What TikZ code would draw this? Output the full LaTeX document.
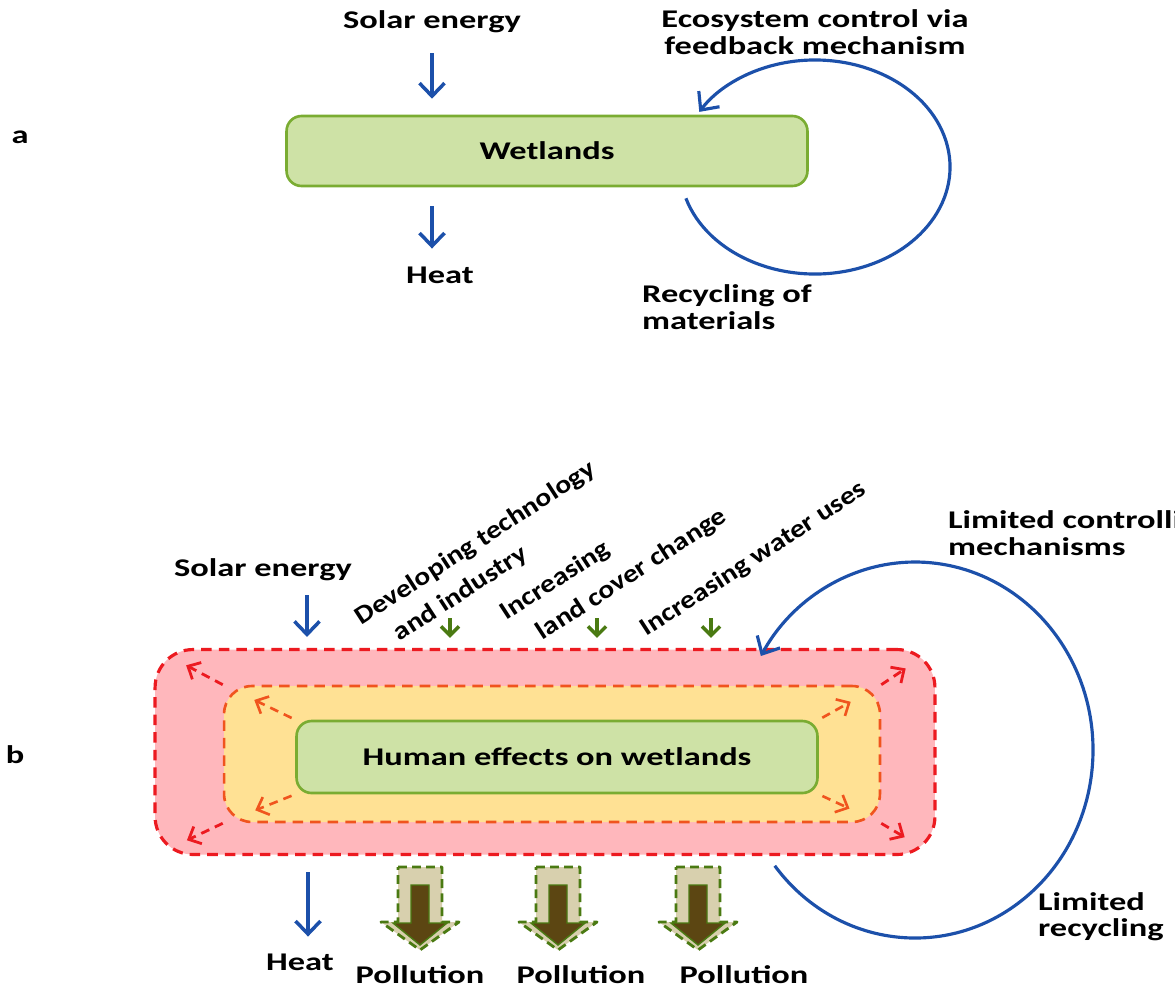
\documentclass[tikz,border=0pt]{standalone}
\usepackage{fontspec}
\setmainfont{Carlito}[FakeStretch=1.35]
\newfontfamily\slantfont{Carlito}[FakeStretch=1.16]
\usetikzlibrary{arrows.meta}
\definecolor{flowblue}{RGB}{28,80,170}
\definecolor{wetfill}{RGB}{206,226,166}
\definecolor{wetline}{RGB}{122,172,50}
\definecolor{pinkfill}{RGB}{255,183,188}
\definecolor{pinkline}{RGB}{236,26,32}
\definecolor{yelfill}{RGB}{255,225,148}
\definecolor{yelline}{RGB}{240,84,30}
\definecolor{pressgreen}{RGB}{74,122,18}
\definecolor{beige}{RGB}{216,208,174}
\definecolor{mud}{RGB}{92,70,18}
\tikzset{
  lbl/.style={font=\fontsize{14.5}{15}\selectfont\bfseries, inner sep=1pt},
  slantlbl/.style={font=\slantfont\fontsize{14.5}{15}\selectfont\bfseries, inner sep=1pt, rotate=33, anchor=base west},
  wetbox/.style={lbl, draw=wetline, fill=wetfill, line width=1.5pt, rounded corners=0.3cm},
  flow/.style={draw=flowblue, line width=2pt, -{Straight Barb[length=2.6mm,width=5mm]}},
  loopline/.style={draw=flowblue, line width=1.8pt, -{Straight Barb[length=2.8mm,width=5.2mm]}},
  press/.style={draw=pressgreen, line width=2pt, -{Straight Barb[length=1.8mm,width=3.6mm]}},
  spreadin/.style={draw=yelline, line width=1.5pt, dash pattern=on 5pt off 3.5pt, -{Straight Barb[length=2mm,width=3.8mm]}},
  spreadout/.style={draw=pinkline, line width=1.6pt, dash pattern=on 5pt off 3.5pt, -{Straight Barb[length=2mm,width=3.8mm]}},
  polout/.style={draw=pressgreen, fill=beige, line width=1.6pt, dash pattern=on 5pt off 3pt, line join=round},
  polin/.style={draw=pressgreen, fill=mud, line width=0.8pt}
}
\begin{document}
\begin{tikzpicture}[x=0.02cm,y=-0.02cm]
    \useasboundingbox (0,0) rectangle (1175,988);
    %% panel a
    \node[lbl] (pa) at (20,137) {a};
    \node[lbl] (sola) at (432,22) {Solar energy};
    \node[wetbox, minimum width=10.42cm, minimum height=1.4cm] (wet) at (547,151) {Wetlands};
    \node[lbl] (heata) at (440,275) {Heat};
    \draw[flow, shorten <=0.36cm, shorten >=0.32cm] (sola) -- (sola |- wet.north);
    \draw[flow, shorten <=0.38cm, shorten >=0.32cm] (sola |- wet.south) -- (sola |- heata.north);
    %% feedback loop
    \coordinate (fba) at (815,167);
    \draw[loopline] (fba) ++(163:135 and 107) arc[start angle=163, end angle=-149, x radius=135, y radius=107];
    \node[lbl, align=center] (ecoa) at (815,32) {Ecosystem control via\\feedback mechanism};
    \node[lbl, align=left, anchor=west] (recya) at (640,307) {Recycling of\\materials};
    %% panel b
    \node[lbl] (pb) at (15,755) {b};
    \node[lbl] (solb) at (263,570) {Solar energy};
    \node[draw=pinkline, fill=pinkfill, line width=1.8pt, dash pattern=on 6pt off 4pt, rounded corners=0.76cm,
          minimum width=15.6cm, minimum height=4.1cm] (outer) at (545,752) {};
    \node[draw=yelline, fill=yelfill, line width=1.5pt, dash pattern=on 6pt off 4pt, rounded corners=0.56cm,
          minimum width=13.12cm, minimum height=2.72cm] (middle) at (552,754) {};
    \node[wetbox, minimum width=10.42cm, minimum height=1.44cm] (inner) at (557,757) {Human effects on wetlands};
    \foreach \c in {north west,north east,south west,south east}{
        \draw[spreadin, shorten <=0.08cm, shorten >=0.7cm] (inner.\c) -- (middle.\c);
        \draw[spreadout, shorten >=0.74cm] (middle.\c) -- (outer.\c);
    }
    \coordinate (sunb) at (307,595);
    \draw[flow, shorten >=0.22cm] (sunb) -- (sunb |- outer.north);
    %% pressures
    \foreach \x/\n in {450/dev,597/land,711/water}{
        \coordinate (\n) at (\x,618);
        \draw[press, shorten >=0.2cm] (\n) -- (\n |- outer.north);
    }
    \node[slantlbl] (devt) at (360,627) {Developing technology};
    \node[slantlbl] (devi) at (398,643) {and industry};
    \node[slantlbl] (lcc1) at (505,622) {Increasing};
    \node[slantlbl] (lcc2) at (541,642) {land cover change};
    \node[slantlbl] (wat) at (645,638) {Increasing water uses};
    %% limited loop
    \coordinate (fbb) at (915,750);
    \draw[loopline] (fbb) ++(142:178 and 188) arc[start angle=142, end angle=-150, x radius=178, y radius=188];
    \node[lbl, align=left, anchor=west] (ctrlb) at (946,533) {Limited controlling\\mechanisms};
    \node[lbl, align=left, anchor=west] (recyb) at (1036,917) {Limited\\recycling};
    %% heat and pollution
    \coordinate (heattop) at (308,872);
    \node[lbl] (heatb) at (300,962) {Heat};
    \draw[flow, shorten >=0.3cm] (heattop) -- (heattop |- heatb.north);
    \foreach \x/\t/\n in {420/420/1,558/581/2,698/744/3}{
        \node[lbl] (pol\n) at (\t,975) {Pollution};
        \draw[polout] (\x-22,867) -- ++(44,0) -- ++(0,55) -- ++(17,0) -- (\x,950) -- (\x-39,922) -- ++(17,0) -- cycle;
        \draw[polin] (\x-9,885) -- ++(18,0) -- ++(0,38) -- ++(18,0) -- (\x,945) -- (\x-27,923) -- ++(18,0) -- cycle;
    }
\end{tikzpicture}
\end{document}
